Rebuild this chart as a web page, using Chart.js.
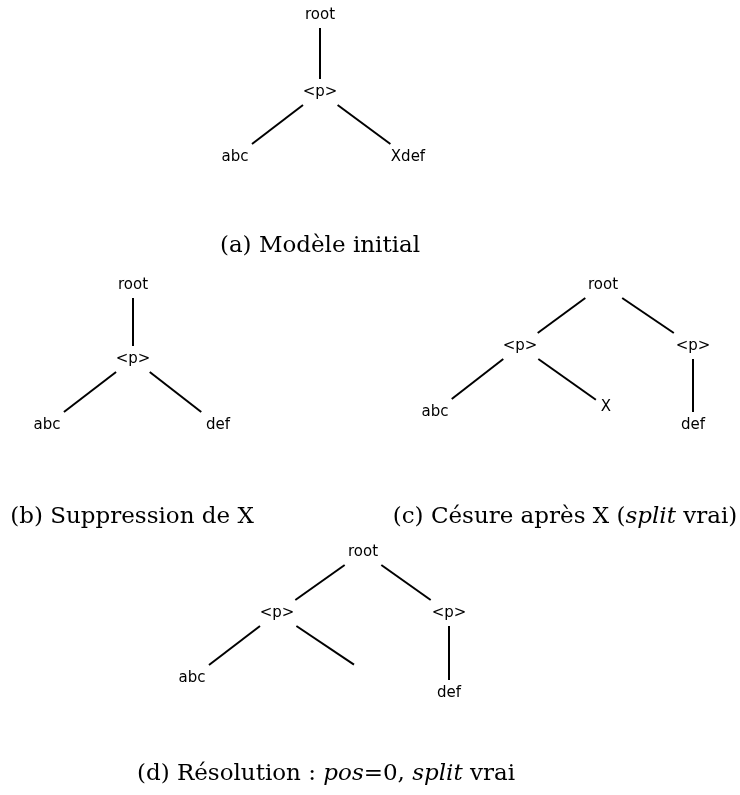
<!DOCTYPE html>
<html>
<head>
<meta charset="utf-8">
<script src="https://cdn.jsdelivr.net/npm/chart.js@4.4.1/dist/chart.umd.min.js"></script>
<style>
  html, body { margin: 0; padding: 0; background: #fff; }
  #wrap { width: 740px; height: 795px; }
</style>
</head>
<body>
<div id="wrap"><canvas id="trees" width="740" height="795"></canvas></div>
<script>
// one entry per node, the four trees one after the other
const nodeLabels = [
  'root', '<p>', 'abc', 'Xdef',
  'root', '<p>', 'abc', 'def',
  'root', '<p>', '<p>', 'abc', 'X', 'def',
  'root', '<p>', '<p>', 'abc', '', 'def'
];
const nodeX = [
  320, 320, 235, 408,
  133, 133, 47, 218,
  603, 520, 693, 435, 606, 693,
  363, 277, 449, 192, 359, 449
];
const nodeY = [
  15, 92, 157, 157,
  285, 359, 425, 425,
  285, 346, 346, 412, 407, 425,
  552, 613, 613, 678, 668, 693
];
// parent -> child, indexes into the node arrays
const edgeFrom = [0, 1, 1, 4, 5, 5, 8, 8, 9, 9, 10, 14, 14, 15, 15, 16];
const edgeTo = [1, 2, 3, 5, 6, 7, 9, 10, 11, 12, 13, 15, 16, 17, 18, 19];

// captions, as runs of [text, italic]
const captions = [
  [['(a) Modèle initial', false]],
  [['(b) Suppression de X', false]],
  [['(c) Césure après X (', false], ['split', true], [' vrai)', false]],
  [['(d) Résolution : ', false], ['pos', true], ['=0, ', false], ['split', true], [' vrai', false]]
];

const captionX = [320, 132, 565, 326];
const captionY = [246, 517, 517, 774];

const LABEL_FONT = '15px "DejaVu Sans"';
const CAPTION_FONT = '23px "DejaVu Serif"';
const CAPTION_ITALIC = 'italic 23px "DejaVu Serif"';
const PAD = 5;
const HALF_H = 13;

const measure = document.createElement('canvas').getContext('2d');
measure.font = LABEL_FONT;

function boxOf(i) {
  const label = nodeLabels[i];
  const w = label ? measure.measureText(label).width : 0;
  return {hw: w / 2 + PAD, hh: label ? HALF_H : PAD};
}

// how far along the centre line the edge leaves the node box
function exitAt(i, dx, dy) {
  const b = boxOf(i);
  const tx = dx ? b.hw / Math.abs(dx) : Infinity;
  const ty = dy ? b.hh / Math.abs(dy) : Infinity;
  return Math.min(tx, ty);
}

const edgeSets = edgeFrom.map((a, k) => {
  const b = edgeTo[k];
  const dx = nodeX[b] - nodeX[a];
  const dy = nodeY[b] - nodeY[a];
  const t0 = exitAt(a, dx, dy);
  const t1 = exitAt(b, dx, dy);
  return {
    data: [
      {x: nodeX[a] + dx * t0, y: nodeY[a] + dy * t0},
      {x: nodeX[b] - dx * t1, y: nodeY[b] - dy * t1}
    ],
    showLine: true,
    borderColor: '#000',
    borderWidth: 2,
    pointRadius: 0,
    borderCapStyle: 'butt'
  };
});

const nodeSet = {
  data: nodeX.map((x, i) => ({x, y: nodeY[i]})),
  pointRadius: 0,
  showLine: false
};

const labelPlugin = {
  id: 'treeLabels',
  afterDatasetsDraw(chart) {
    const ctx = chart.ctx;
    const meta = chart.getDatasetMeta(chart.data.datasets.length - 1);
    ctx.save();
    ctx.fillStyle = '#000';
    ctx.font = LABEL_FONT;
    ctx.textAlign = 'center';
    ctx.textBaseline = 'middle';
    meta.data.forEach((el, i) => {
      if (nodeLabels[i]) ctx.fillText(nodeLabels[i], el.x, el.y);
    });

    const xs = chart.scales.x;
    const ys = chart.scales.y;
    ctx.textAlign = 'left';
    captions.forEach((runs, c) => {
      let total = 0;
      runs.forEach(([text, it]) => {
        ctx.font = it ? CAPTION_ITALIC : CAPTION_FONT;
        total += ctx.measureText(text).width;
      });
      let x = xs.getPixelForValue(captionX[c]) - total / 2;
      const y = ys.getPixelForValue(captionY[c]);
      runs.forEach(([text, it]) => {
        ctx.font = it ? CAPTION_ITALIC : CAPTION_FONT;
        ctx.fillText(text, x, y);
        x += ctx.measureText(text).width;
      });
    });
    ctx.restore();
  }
};

new Chart(document.getElementById('trees'), {
  type: 'scatter',
  data: {datasets: [...edgeSets, nodeSet]},
  options: {
    responsive: false,
    animation: false,
    layout: {padding: 0},
    scales: {
      x: {type: 'linear', min: 0, max: 740, display: false},
      y: {type: 'linear', min: 0, max: 795, reverse: true, display: false}
    },
    plugins: {
      legend: {display: false},
      tooltip: {enabled: false}
    }
  },
  plugins: [labelPlugin]
});
</script>
</body>
</html>
